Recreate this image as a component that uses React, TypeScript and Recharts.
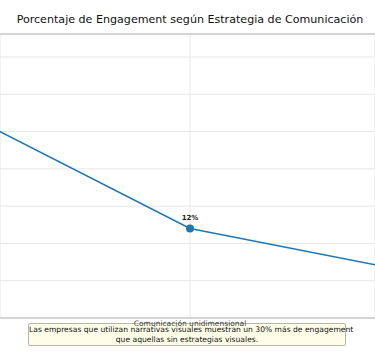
import React from "react";
import { LineChart, Line, XAxis, YAxis, CartesianGrid, ReferenceLine, LabelList } from "recharts";

const categories = ["Narrativas visuales", "Comunicación unidimensional", "Sin estrategia visual"];
const engagement = [38, 12, 2];
const yTicks = [0, 5, 10, 15, 20, 25, 30, 35];
const xTicks = [1];
const yMax = 38.08;
const xDomain: [number, number] = [0.5, 1.4868];

const data = categories.map((c, i) => ({ idx: i, name: c, value: engagement[i] }));

const FONT = "DejaVu Sans, sans-serif";
const BLUE = "#1f77b4";

export default function App() {
  return (
    <div style={{ position: "absolute", left: 0, top: 0, width: 375, height: 359, overflow: "hidden", background: "#fff", fontFamily: FONT }}>
      <div style={{ position: "absolute", left: 28, top: 323, width: 316, height: 20, border: "1px solid #b8b8a8", borderRadius: 2, background: "#fefee8", textAlign: "center", fontSize: 7.6, lineHeight: "9.5px", color: "#111", fontFamily: FONT, whiteSpace: "nowrap", paddingTop: 1 }}>
        Las empresas que utilizan narrativas visuales muestran un 30% más de engagement
        <br />
        que aquellas sin estrategias visuales.
      </div>
      <div style={{ position: "absolute", left: 0, top: 0 }}>
        <LineChart width={375} height={359} data={data} margin={{ top: 34, right: 0, bottom: 11, left: 0 }}>
          <CartesianGrid stroke="#e6e6e6" strokeWidth={1} />
          <XAxis
            dataKey="idx"
            type="number"
            domain={xDomain}
            allowDataOverflow
            ticks={xTicks}
            tickFormatter={(v: number) => categories[v]}
            height={30}
            stroke="#b5b5b5"
            tickSize={0}
            tickMargin={3}
            tick={{ fill: "#444", fontSize: 7.5, fontFamily: FONT }}
          />
          <YAxis hide width={0} type="number" domain={[0, yMax]} ticks={yTicks} allowDataOverflow />
          <ReferenceLine y={yMax} stroke="#b5b5b5" strokeWidth={1} />
          <Line
            type="linear"
            dataKey="value"
            stroke={BLUE}
            strokeWidth={1.5}
            dot={{ r: 4, fill: BLUE, stroke: BLUE, strokeWidth: 0 }}
            isAnimationActive={false}
          >
            <LabelList
              dataKey="value"
              position="top"
              offset={9}
              formatter={(v: number) => `${v}%`}
              style={{ fontSize: 7, fontWeight: "bold", fill: "#222", fontFamily: FONT }}
            />
          </Line>
        </LineChart>
      </div>
      <div style={{ position: "absolute", left: 0, top: 13, width: 380, textAlign: "center", fontSize: 11.1, color: "#111", fontFamily: FONT, whiteSpace: "nowrap" }}>
        Porcentaje de Engagement según Estrategia de Comunicación
      </div>
    </div>
  );
}
